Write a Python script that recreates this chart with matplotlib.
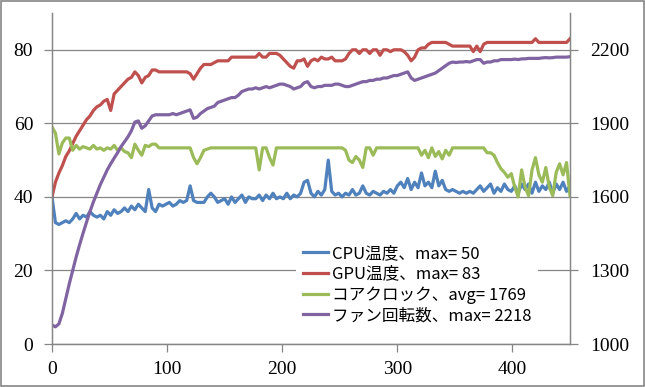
import numpy as np
import matplotlib
matplotlib.use('Agg')
import matplotlib.pyplot as plt
from matplotlib.patches import Rectangle

# samples every 3 time steps
step = 3

cpu_temp = [40, 33, 32.5, 33, 33.5, 33, 34, 35.5, 34, 35, 34.5, 36, 35, 34.5, 35, 34,
            36, 35, 36.5, 35.5, 36, 37, 36, 37.5, 36.5, 38, 37, 36, 42, 37, 36, 38,
            37.5, 38, 38.5, 37.5, 38, 39, 38.5, 39, 43, 39, 38.5, 38.5, 38.5, 40, 41, 40,
            38.5, 39, 39.5, 38, 40, 38.5, 39.5, 40.5, 38.5, 40, 39.5, 39.5, 40.5, 39, 40.5, 39.5,
            41, 39.5, 40, 39.5, 41, 39.5, 40.5, 40, 41, 44, 44.5, 41, 40, 41.5, 40.5, 42,
            50, 41.5, 40.5, 41, 40, 41, 40.5, 42, 40.5, 41, 43, 41, 40.5, 41.5, 41, 40.5,
            41.5, 41, 42, 41, 43, 44, 42.5, 45, 42, 44, 42.5, 46.5, 43, 44, 42.5, 47,
            43, 44.5, 42, 41.5, 42, 41.5, 41, 41.5, 41, 41.5, 41, 42, 43, 41.5, 42.5, 43.5,
            41, 42.5, 41.5, 43.5, 42, 41.5, 43, 41, 43.5, 42, 43.5, 41, 44, 41.5, 43, 42,
            44, 41, 43.5, 42, 44, 41.5, 43]

gpu_temp = [40, 44, 46.5, 48.5, 51, 52.5, 54.5, 56.5, 58, 59.5, 61, 62, 63.5, 64.5, 65, 66,
            66.5, 63.5, 68, 69, 70, 71, 72, 72.5, 74, 73, 71, 72.5, 73, 74.5, 74.5, 74,
            74, 74, 74, 74, 74, 74, 74, 74, 73.5, 72, 73.5, 75, 76, 76, 76, 76.5,
            77, 77, 77, 77, 78, 78, 78, 78, 78, 78, 78, 78, 79, 78, 78, 79,
            79, 79, 78.5, 77.5, 76.5, 75.5, 75, 77, 77, 77.5, 75.5, 77, 77.5, 77, 78, 77.5,
            77.5, 78, 77, 77, 77, 77.5, 79, 80, 80, 79, 80, 80, 79, 80, 80, 78.5,
            80, 80, 79.5, 80, 80, 80, 79.5, 78.5, 77, 78, 80, 80.5, 80.5, 81.5, 82, 82,
            82, 82, 82, 81.5, 81, 81, 81, 81, 81, 81, 79.5, 81, 79.5, 81.5, 82, 82,
            82, 82, 82, 82, 82, 82, 82, 82, 82, 82, 82, 82, 83, 82, 82, 82,
            82, 82, 82, 82, 82, 82, 83]

core_clock = [1885, 1860, 1775, 1820, 1840, 1840, 1790, 1810, 1795, 1805, 1800, 1795, 1810, 1795, 1800, 1790,
              1800, 1795, 1810, 1790, 1800, 1785, 1780, 1760, 1815, 1790, 1770, 1810, 1805, 1815, 1815, 1800,
              1800, 1800, 1800, 1800, 1800, 1800, 1800, 1800, 1800, 1760, 1735, 1760, 1790, 1795, 1800, 1800,
              1800, 1800, 1800, 1800, 1800, 1800, 1800, 1800, 1800, 1800, 1800, 1800, 1710, 1800, 1800, 1760,
              1730, 1800, 1800, 1800, 1800, 1800, 1800, 1800, 1800, 1800, 1800, 1800, 1800, 1800, 1800, 1800,
              1800, 1800, 1800, 1800, 1800, 1790, 1750, 1740, 1765, 1750, 1720, 1800, 1800, 1770, 1800, 1800,
              1800, 1800, 1800, 1800, 1800, 1800, 1800, 1800, 1800, 1800, 1800, 1770, 1790, 1760, 1800, 1765,
              1785, 1755, 1790, 1770, 1800, 1800, 1800, 1800, 1800, 1800, 1800, 1800, 1800, 1800, 1780, 1780,
              1770, 1740, 1715, 1700, 1680, 1695, 1640, 1600, 1710, 1640, 1605, 1710, 1760, 1690, 1660, 1720,
              1640, 1605, 1700, 1735, 1690, 1740, 1605]

fan_speed = [1078, 1070, 1082, 1125, 1185, 1245, 1300, 1355, 1405, 1452, 1497, 1540, 1580, 1615, 1650, 1680,
             1710, 1735, 1758, 1780, 1805, 1825, 1845, 1870, 1905, 1910, 1880, 1890, 1910, 1930, 1935, 1935,
             1935, 1935, 1935, 1940, 1935, 1940, 1945, 1950, 1955, 1920, 1925, 1940, 1950, 1960, 1965, 1970,
             1985, 1990, 1995, 2000, 2005, 2005, 2015, 2030, 2035, 2040, 2040, 2045, 2040, 2045, 2050, 2045,
             2050, 2055, 2060, 2060, 2055, 2050, 2040, 2045, 2050, 2065, 2070, 2050, 2045, 2050, 2050, 2055,
             2055, 2055, 2060, 2060, 2055, 2050, 2050, 2055, 2060, 2065, 2070, 2070, 2075, 2075, 2080, 2080,
             2085, 2085, 2090, 2095, 2095, 2100, 2105, 2110, 2085, 2075, 2080, 2085, 2090, 2095, 2100, 2105,
             2115, 2125, 2135, 2145, 2150, 2148, 2150, 2150, 2152, 2150, 2155, 2160, 2160, 2145, 2150, 2150,
             2155, 2155, 2160, 2160, 2160, 2160, 2162, 2160, 2163, 2163, 2165, 2165, 2165, 2165, 2167, 2168,
             2167, 2168, 2170, 2170, 2170, 2170, 2172]

labels = ['CPU温度、max= 50', 'GPU温度、max= 83', 'コアクロック、avg= 1769', 'ファン回転数、max= 2218']
colors = ['#4F81BD', '#C0504D', '#9BBB59', '#8064A2']

left_ticks = [0, 20, 40, 60, 80]
right_ticks = [1000, 1300, 1600, 1900, 2200]
x_ticks = [0, 100, 200, 300, 400]

grey = '#868686'
tick_font = {'family': 'Liberation Serif', 'size': 14}

fig = plt.figure(figsize=(6.45, 3.87), dpi=100)
ax = fig.add_axes([0.0806, 0.1111, 0.8031, 0.8553])
ax2 = ax.twinx()

lw = 2.3
h1, = ax.plot(np.arange(len(cpu_temp)) * step, cpu_temp, color=colors[0], lw=lw)
h2, = ax.plot(np.arange(len(gpu_temp)) * step, gpu_temp, color=colors[1], lw=lw)
h3, = ax2.plot(np.arange(len(core_clock)) * step, core_clock, color=colors[2], lw=lw)
h4, = ax2.plot(np.arange(len(fan_speed)) * step, fan_speed, color=colors[3], lw=lw)

ax.set_xlim(0, 450)
ax.set_ylim(0, 90)
ax2.set_ylim(1000, 2350)
ax.set_xticks(x_ticks)
ax.set_yticks(left_ticks)
ax2.set_yticks(right_ticks)
ax.grid(axis='y', color=grey, lw=0.9)
ax.set_axisbelow(True)

for a in (ax, ax2):
    for side in ('top', 'left', 'right', 'bottom'):
        a.spines[side].set_color(grey)
        a.spines[side].set_linewidth(0.9)
    a.spines['top'].set_visible(False)
    a.tick_params(colors=grey, labelcolor='black', width=0.9, length=5.5)
ax.tick_params(axis='y', pad=8)
ax.tick_params(axis='x', pad=7)
ax2.tick_params(axis='y', pad=9)

for lab in ax.get_xticklabels() + ax.get_yticklabels() + ax2.get_yticklabels():
    lab.set_fontfamily(tick_font['family'])
    lab.set_fontsize(tick_font['size'])

leg = ax2.legend([h1, h2, h3, h4], labels, loc='upper left', bbox_to_anchor=(0.455, 0.345),
                 prop={'family': ['Noto Sans CJK JP', 'DejaVu Sans'], 'size': 12},
                 frameon=True, fancybox=False, framealpha=1, facecolor='white', edgecolor='none',
                 handlelength=1.5, handletextpad=0.25, labelspacing=0.22, borderpad=0.4)

# outer chart border
fig.add_artist(Rectangle((0.001, 0.002), 0.997, 0.995, transform=fig.transFigure,
                         fill=False, edgecolor=grey, lw=1.2))

fig.savefig('out.png', dpi=100)
